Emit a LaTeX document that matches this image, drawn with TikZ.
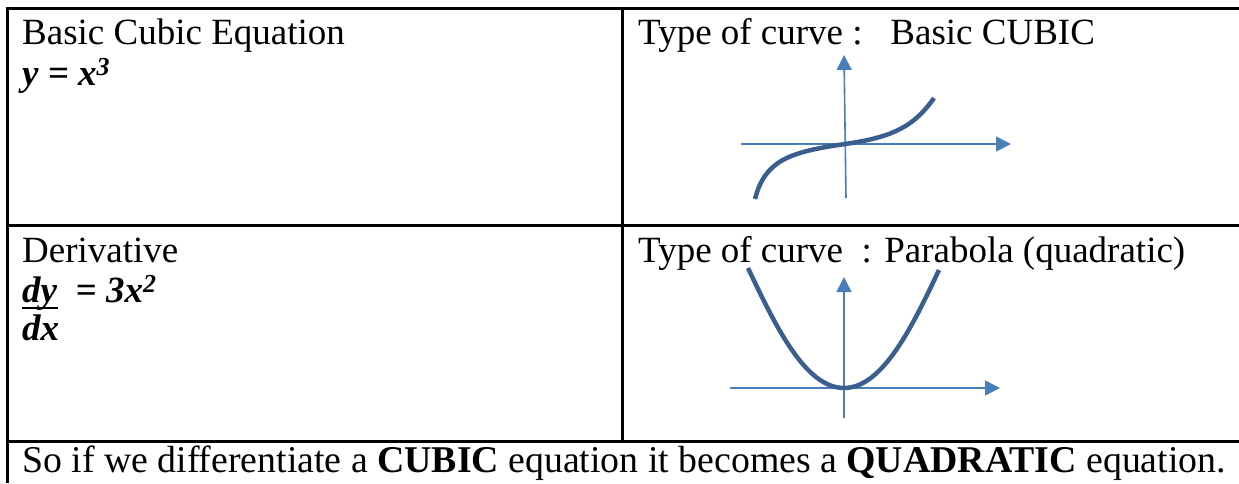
\documentclass[tikz,border=0pt]{standalone}
\usepackage{fontspec}
\setmainfont{Liberation Serif}
\usetikzlibrary{arrows.meta}
\definecolor{axisblue}{HTML}{4A7EBB}
\definecolor{curveblue}{HTML}{3A5F8F}
\tikzset{
  grid/.style={line width=2.2pt, black},
  axis/.style={line width=1.6pt, axisblue, -{Triangle[length=15pt,width=15pt]}},
  curve/.style={line width=4.5pt, curveblue},
  txt/.style={anchor=base west, inner sep=0pt, font=\fontsize{37}{42}\selectfont},
}
\begin{document}
\begin{tikzpicture}[x=1pt,y=-1pt]
\useasboundingbox (0,0) rectangle (1239,483);
% table rules
\draw[grid] (7.5,483) -- (7.5,8.5) -- (1239,8.5);
\draw[grid] (622.5,8.5) -- (622.5,441.5);
\draw[grid] (7.5,225.5) -- (1239,225.5);
\draw[grid] (7.5,441.5) -- (1239,441.5);
% texts
\node[txt] (t1) at (22,44.5) {Basic Cubic Equation};
\node[txt] (t2) at (22,85) {\textbf{\textit{y = x\textsuperscript{3}}}};
\node[txt] (t3) at (638,44.5) {Type of curve :\ \ \ Basic CUBIC};
\node[txt] (t4) at (22,262) {Derivative};
\node[txt] (t5) at (22,302) {\textbf{\textit{dy}}\ \ \textbf{\textit{= 3x\textsuperscript{2}}}};
\node[txt] (t6) at (22,340) {\textbf{\textit{dx}}};
\draw[line width=2.4pt] (22,308) -- (58,308);
\node[txt] (t7) at (638,262) {Type of curve\ \ : Parabola (quadratic)};
\node[txt, font=\fontsize{37.8}{42}\selectfont] (t8) at (22,472) {So if we differentiate a \textbf{CUBIC} equation it becomes a \textbf{QUADRATIC} equation.};
% cubic graph
\coordinate (c1b) at (846,198);
\coordinate (c1t) at (844,55);
\coordinate (c1l) at (741,144);
\coordinate (c1r) at (1011,144);
\draw[axis] (c1b) -- (c1t);
\draw[axis] (c1l) -- (c1r);
\draw[curve] (755,199) .. controls (765,160) and (790,152) .. (845,144)
  .. controls (895,137) and (915,125) .. (934,98);
% parabola graph
\coordinate (p1b) at (844,418);
\coordinate (p1t) at (844,277);
\coordinate (p1l) at (730,388);
\coordinate (p1r) at (1000,388);
\draw[axis] (p1b) -- (p1t);
\draw[axis] (p1l) -- (p1r);
\draw[curve] (748,268) .. controls (775,325) and (805,388) .. (844,388)
  .. controls (883,388) and (913,325) .. (939,270);
\end{tikzpicture}
\end{document}
